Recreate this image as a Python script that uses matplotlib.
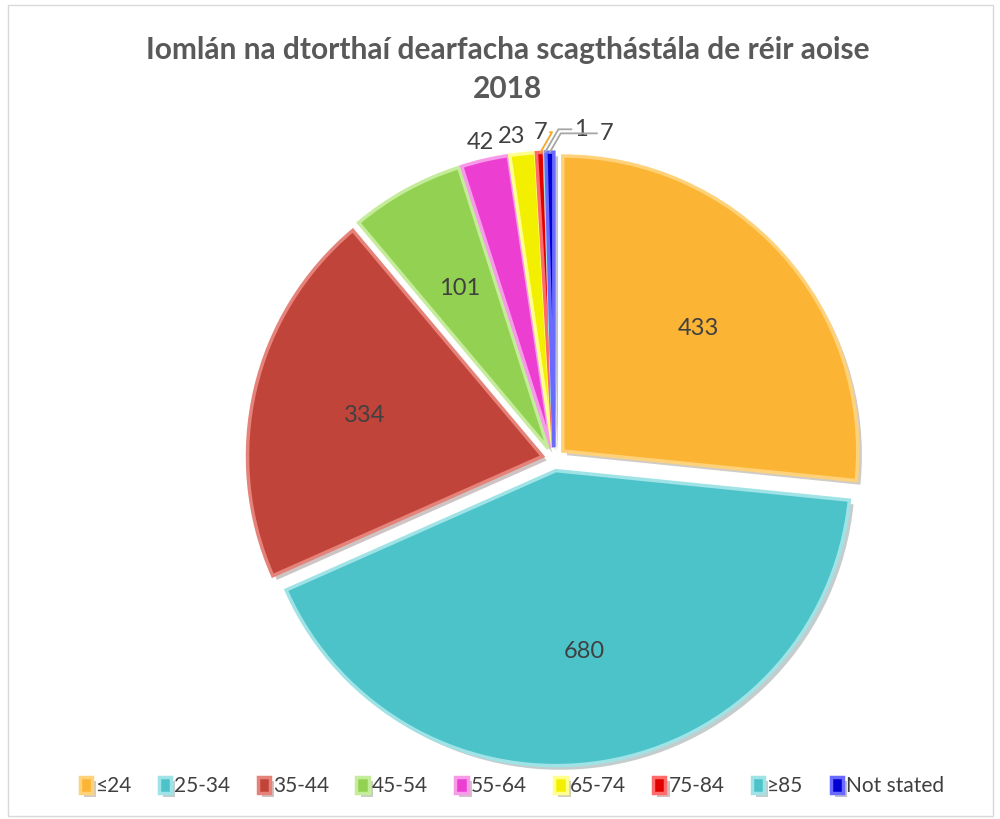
import numpy as np
import matplotlib.pyplot as plt
import matplotlib.patheffects as pe
from matplotlib.patches import Rectangle

plt.rcParams['font.family'] = ['Lato', 'DejaVu Sans']

# data
age_groups = ['≤24', '25-34', '35-44', '45-54', '55-64', '65-74', '75-84', '≥85', 'Not stated']
counts = [433, 680, 334, 101, 42, 23, 7, 1, 7]
colors = ['#FBB434', '#4CC3C9', '#C1443B', '#93D152', '#EC3FD2',
          '#F2F000', '#E00000', '#4CC3C9', '#0000D2']
edge_colors = ['#FFD27A', '#9FE3E6', '#E5837A', '#C4EC9A', '#F79BE8',
               '#FFFF90', '#FF6A6A', '#9FE3E6', '#6A6AFF']

title = 'Iomlán na dtorthaí dearfacha scagthástála de réir aoise\n2018'
text_col = '#404040'

fig = plt.figure(figsize=(10, 8.19), dpi=100)
fig.patch.set_facecolor('white')
fig.patches.append(Rectangle((0.008, 0.004), 0.985, 0.99, transform=fig.transFigure,
                             fill=False, edgecolor='#d9d9d9', linewidth=1))

# pie axes, centre ~ (554, 459) px, radius ~ 295 px
r_px = 295
w = 2.2 * r_px / 1000
h = 2.2 * r_px / 819
ax = fig.add_axes([0.554 - w / 2, 0.4396 - h / 2, w, h])

explode = [0.04] * len(counts)
wedges, texts = ax.pie(counts, colors=colors, startangle=90, counterclock=False,
                       explode=explode, radius=1,
                       wedgeprops=dict(linewidth=2.5))
for wdg, ec in zip(wedges, edge_colors):
    wdg.set_edgecolor(ec)
    wdg.set_path_effects([pe.SimplePatchShadow(offset=(3, -3), alpha=0.25), pe.Normal()])

ax.set_xlim(-1.1, 1.1)
ax.set_ylim(-1.1, 1.1)
ax.set_aspect('equal')
ax.axis('off')

# value labels (inside for the big slices, just outside for 55-64 and 65-74)
outside_shift = {4: (0, 0), 5: (-7, 0)}
for i, (wdg, val) in enumerate(zip(wedges, counts)):
    ang = np.deg2rad((wdg.theta1 + wdg.theta2) / 2)
    cx, cy = wdg.center
    if val > 100:
        d = 0.62
        ax.text(cx + d * np.cos(ang), cy + d * np.sin(ang), str(val),
                ha='center', va='center', fontsize=17, color=text_col)
    elif i in outside_shift:
        d = 1.06
        ax.annotate(str(val), xy=(cx + d * np.cos(ang), cy + d * np.sin(ang)),
                    xytext=outside_shift[i], textcoords='offset points',
                    ha='center', va='center', fontsize=17, color=text_col)

# leader-line labels for the tiny slices
leader = {6: ((0, 7), '#F5A623', 'center'),
          7: ((21, 9), '#A6A6A6', 'left'),
          8: ((36, 6), '#A6A6A6', 'left')}
for i, (off, lc, ha) in leader.items():
    wdg = wedges[i]
    ang = np.deg2rad((wdg.theta1 + wdg.theta2) / 2)
    cx, cy = wdg.center
    xy = (cx + np.cos(ang), cy + np.sin(ang))
    ax.annotate(str(counts[i]), xy=xy, xytext=off, textcoords='offset points',
                ha=ha, va='bottom', fontsize=17, color=text_col,
                arrowprops=dict(arrowstyle='-', color=lc, lw=1.3,
                                shrinkA=0, shrinkB=0,
                                connectionstyle='angle,angleA=0,angleB=60,rad=0'))

fig.text(0.508, 0.915, title, ha='center', va='center', fontsize=21.5,
         fontweight='bold', color='#595959', linespacing=1.45)

fig.legend(wedges, age_groups, loc='center', bbox_to_anchor=(0.512, 0.04), ncol=9,
           frameon=False, fontsize=15, handlelength=0.6, handleheight=0.8,
           handletextpad=0.15, columnspacing=1.3, labelcolor=text_col)

fig.savefig('out.png', dpi=100, facecolor='white')
